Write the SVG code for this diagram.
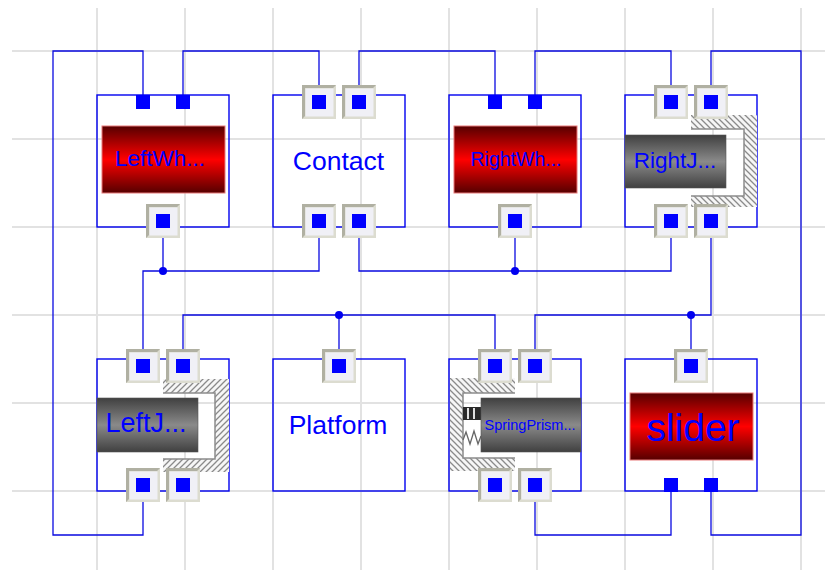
<svg xmlns="http://www.w3.org/2000/svg" width="833" height="570" viewBox="0 0 833 570">
<style>
.grid{stroke:#e2e2e2;stroke-width:2;fill:none}
.wire{stroke:#0a0ae0;stroke-width:1.3;fill:none}
.dot{fill:#0000f0}
.box{fill:none;stroke:#0000f0;stroke-width:1.4}
.pin{fill:#0000ff}
.label{font-family:"Liberation Sans",Arial,sans-serif;fill:#0000ff;text-anchor:middle}
.red{fill:url(#redGrad);stroke:#e87878;stroke-width:1}
.gray{fill:url(#grayGrad);stroke:#555;stroke-width:0.6}
.hatch{fill:url(#hatchB);fill-rule:evenodd}
.hatchL{fill:url(#hatchF);fill-rule:evenodd}
.inner{fill:none;stroke:#8c8c8c;stroke-width:1.5}
</style>
<defs>
<linearGradient id="redGrad" x1="0" y1="0" x2="0" y2="1">
<stop offset="0" stop-color="#560000"/><stop offset="0.5" stop-color="#ff0000"/><stop offset="1" stop-color="#560000"/>
</linearGradient>
<linearGradient id="grayGrad" x1="0" y1="0" x2="0" y2="1">
<stop offset="0" stop-color="#404040"/><stop offset="0.5" stop-color="#8a8a8a"/><stop offset="1" stop-color="#404040"/>
</linearGradient>
<pattern id="hatchB" width="6" height="6" patternUnits="userSpaceOnUse">
<rect width="6" height="6" fill="#f6f6f6"/><path d="M-1,-1 L7,7 M-1,5 L1,7 M5,-1 L7,1" stroke="#8a8a8a" stroke-width="1.3"/>
</pattern>
<pattern id="hatchF" width="6" height="6" patternUnits="userSpaceOnUse">
<rect width="6" height="6" fill="#f6f6f6"/><path d="M-1,7 L7,-1 M-1,1 L1,-1 M5,7 L7,5" stroke="#8a8a8a" stroke-width="1.3"/>
</pattern>
<g id="fport">
<rect x="-17" y="-17" width="34" height="34" fill="#dcdcd0"/>
<path d="M-17,-17 H17 L14,-14 H-14 V14 L-17,17 Z" fill="#b0b0a2"/>
<rect x="-13.500" y="-13.500" width="28" height="28" fill="#f0f0f6"/>
<rect class="pin" x="-7" y="-7" width="14" height="14"/>
</g>
<rect id="pport" class="pin" x="-7" y="-7" width="14" height="14"/>
</defs>

<rect width="833" height="570" fill="#ffffff"/>
<g id="grid" class="grid">
<path d="M97,8V570M185,8V570M273,8V570M361,8V570M449,8V570M537,8V570M625,8V570M713,8V570M801,8V570"/>
<path d="M12,51H825M12,139H825M12,227H825M12,315H825M12,403H825M12,491H825"/>
</g>

<g id="connectors">
<path class="wire" d="M143,95V51H53V535H143V497"/>
<path class="wire" d="M183,95V51H319V85"/>
<path class="wire" d="M359,85V51H495V95"/>
<path class="wire" d="M535,95V51H671V85"/>
<path class="wire" d="M711,85V51H801V535H711V492"/>
<path class="wire" d="M163,237V271H143V349"/>
<path class="wire" d="M163,271H319V237"/>
<path class="wire" d="M359,237V271H671V237"/>
<path class="wire" d="M515,237V271"/>
<path class="wire" d="M711,237V315H535V349"/>
<path class="wire" d="M691,315V349"/>
<path class="wire" d="M183,349V315H495V349"/>
<path class="wire" d="M339,315V349"/>
<path class="wire" d="M535,501V535H671V492"/>
<circle class="dot" cx="163" cy="271" r="4"/>
<circle class="dot" cx="515" cy="271" r="4"/>
<circle class="dot" cx="691" cy="315" r="4"/>
<circle class="dot" cx="339" cy="315" r="4"/>
</g>

<g id="LeftWheel">
<rect class="box" x="97" y="95" width="132" height="132"/>
<rect class="red" x="102" y="126" width="123" height="67"/>
<text class="label" x="160" y="166" font-size="22.500">LeftWh...</text>
<use href="#pport" x="143" y="102"/><use href="#pport" x="183" y="102"/><use href="#fport" x="163" y="221"/>
</g>
<g id="Contact">
<rect class="box" x="273" y="95" width="132" height="132"/>
<text class="label" x="338.500" y="170" font-size="26.500">Contact</text>
<use href="#fport" x="319" y="102"/><use href="#fport" x="359" y="102"/><use href="#fport" x="319" y="221"/><use href="#fport" x="359" y="221"/>
</g>
<g id="RightWheel">
<rect class="box" x="449" y="95" width="132" height="132"/>
<rect class="red" x="454" y="126" width="123" height="67"/>
<text class="label" x="516" y="166" font-size="19.500">RightWh...</text>
<use href="#pport" x="495" y="102"/><use href="#pport" x="535" y="102"/><use href="#fport" x="515" y="221"/>
</g>
<g id="RightJoint">
<rect class="box" x="625" y="95" width="132" height="132"/>
<path class="hatch" d="M691,115H757V207H691V196H744V129H691Z"/>
<path class="inner" d="M691,129H744V196H691"/>
<rect class="gray" x="625" y="135" width="101" height="53"/>
<text class="label" x="675" y="168" font-size="22.500">RightJ...</text>
<use href="#fport" x="671" y="102"/><use href="#fport" x="711" y="102"/><use href="#fport" x="671" y="221"/><use href="#fport" x="711" y="221"/>
</g>
<g id="LeftJoint">
<rect class="box" x="97" y="359" width="132" height="132"/>
<path class="hatchL" d="M163,379H229V472H163V459H215V393H163Z"/>
<path class="inner" d="M163,393H215V459H163"/>
<rect class="gray" x="97" y="398" width="101" height="54"/>
<text class="label" x="146" y="432" font-size="27">LeftJ...</text>
<use href="#fport" x="143" y="366"/><use href="#fport" x="183" y="366"/><use href="#fport" x="143" y="485"/><use href="#fport" x="183" y="485"/>
</g>
<g id="Platform">
<rect class="box" x="273" y="359" width="132" height="132"/>
<text class="label" x="338" y="434" font-size="26.500">Platform</text>
<use href="#fport" x="339" y="366"/>
</g>
<g id="SpringPrismatic">
<rect class="box" x="449" y="359" width="132" height="132"/>
<path class="hatch" d="M515,378H450V471H515V458H463V393H515Z"/>
<path class="inner" d="M515,393H463V458H515"/>
<rect x="463" y="407" width="18" height="13" fill="#2a2a2a"/>
<rect x="467" y="408" width="2" height="11" fill="#e0e0e0"/>
<rect x="473" y="408" width="2" height="11" fill="#e0e0e0"/>
<path d="M463,440L466,432L470,444L474,431L478,444L481,436" stroke="#666" stroke-width="1.3" fill="none"/>
<rect class="gray" x="481" y="398" width="100" height="54"/>
<text class="label" x="530" y="430" font-size="14.500">SpringPrism...</text>
<use href="#fport" x="495" y="366"/><use href="#fport" x="535" y="366"/><use href="#fport" x="495" y="485"/><use href="#fport" x="535" y="485"/>
</g>
<g id="slider">
<rect class="box" x="625" y="359" width="132" height="132"/>
<rect class="red" x="630" y="393" width="123" height="67"/>
<text class="label" x="693" y="441" font-size="39">slider</text>
<use href="#fport" x="691" y="366"/><use href="#pport" x="671" y="485"/><use href="#pport" x="711" y="485"/>
</g>
</svg>
